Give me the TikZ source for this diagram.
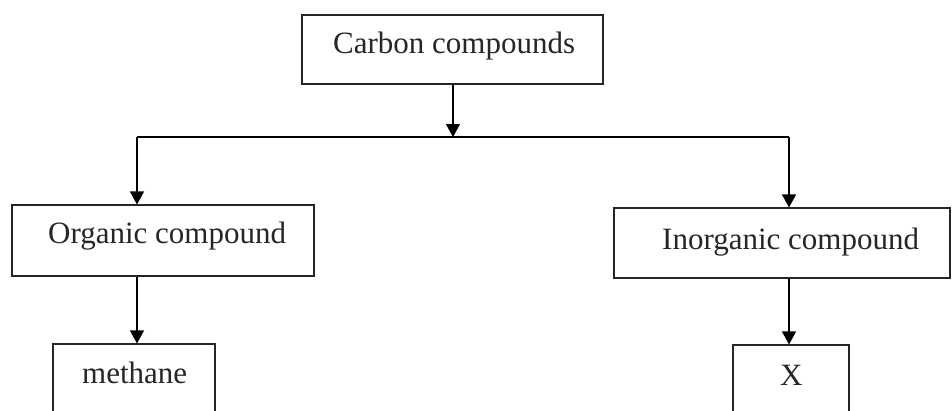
\documentclass[tikz,border=0pt]{standalone}
\usepackage{fontspec}
\setmainfont{Liberation Serif}
\usetikzlibrary{arrows.meta}
\begin{document}
\begin{tikzpicture}[x=1pt,y=-1pt,
  box/.style={draw=black!85, line width=1.1pt, rectangle, inner sep=0pt},
  lbl/.style={inner sep=0pt, anchor=base west, font=\fontsize{31}{37}\selectfont, text=black!85},
  conn/.style={draw=black, line width=1.1pt},
  arr/.style={conn, -{Triangle[length=13pt,width=14pt]}}]
\path[use as bounding box, clip] (0,0) rectangle (952,410);
\fill[white] (0,0) rectangle (952,410);
% boxes
\node[box, minimum width=301pt, minimum height=69pt] (top) at (452.5,49.5) {};
\node[box, minimum width=302pt, minimum height=71pt] (org) at (163,240.5) {};
\node[box, minimum width=336pt, minimum height=70pt] (inorg) at (782,243) {};
\node[box, minimum width=162pt, minimum height=86pt] (meth) at (134,387) {};
\node[box, minimum width=116pt, minimum height=85pt] (xbox) at (791,387.5) {};
% labels
\node[lbl] (ttop) at (333,53) {Carbon compounds};
\node[lbl] (torg) at (48,243) {Organic compound};
\node[lbl] (tinorg) at (662,249) {Inorganic compound};
\node[lbl] (tmeth) at (82,383) {methane};
\node[lbl] (tx) at (780,385) {X};
% junction coordinates
\coordinate (j) at (453,137);
\coordinate (jl) at (137,137);
\coordinate (jr) at (789,137);
% connectors
\draw[arr] (top.south -| j) -- (j);
\draw[conn] (jl) -- (jr);
\draw[arr] (jl) -- (jl |- org.north);
\draw[arr] (jr) -- (jr |- inorg.north);
\draw[arr] (jl |- org.south) -- (jl |- meth.north);
\draw[arr] (jr |- inorg.south) -- (jr |- xbox.north);
\end{tikzpicture}
\end{document}
